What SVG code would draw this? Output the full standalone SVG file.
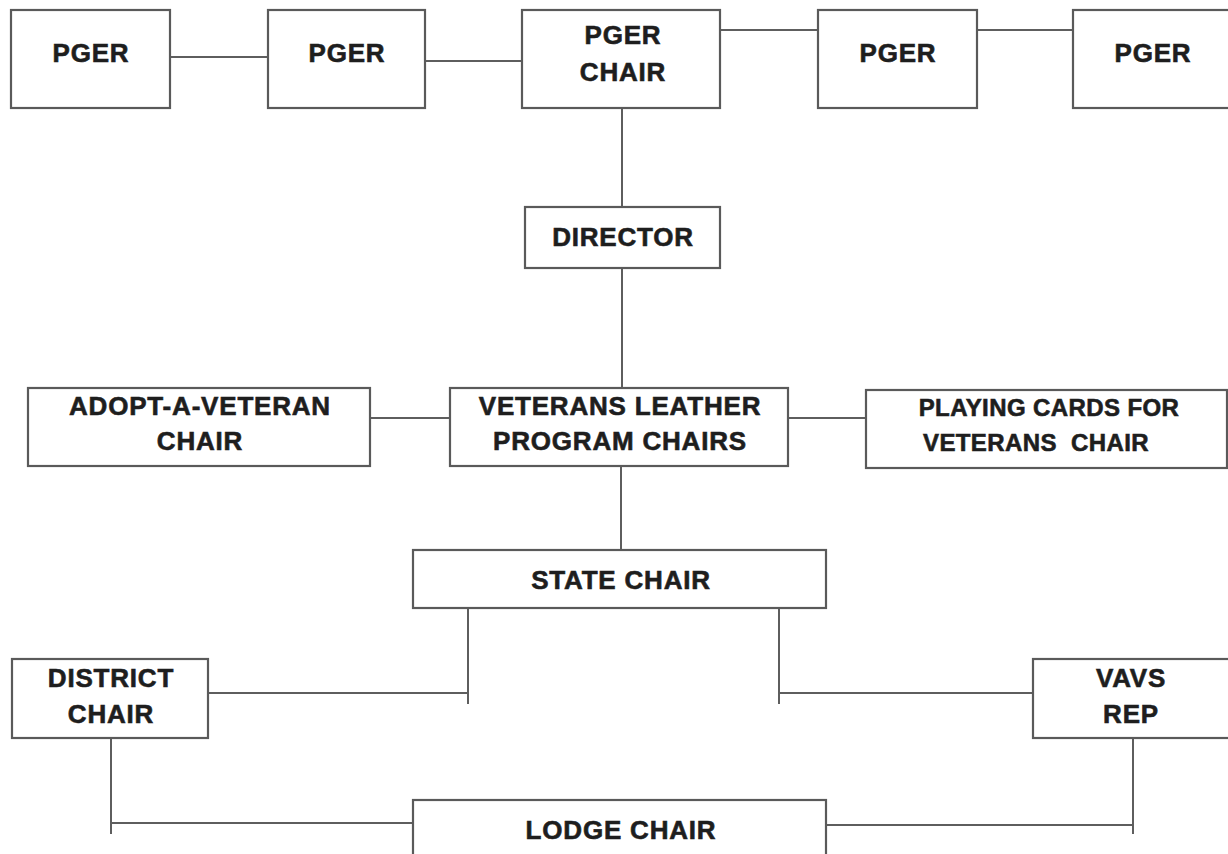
<svg xmlns="http://www.w3.org/2000/svg" width="1228" height="854" viewBox="0 0 1228 854">
<style>
.box{fill:#fff;stroke:#5a5a5a;stroke-width:2.2}
.lbl{font-family:"Liberation Sans",Arial,sans-serif;font-weight:bold;font-size:26px;letter-spacing:0.8px;fill:#1e1e1e;stroke:#1e1e1e;stroke-width:0.6;text-anchor:middle}
.sm{font-size:24px;letter-spacing:0.4px}
.con line{stroke:#5e5e5e;stroke-width:2}
</style>
<rect width="1228" height="854" fill="#fff"/>
<g class="con" id="connectors">
<line x1="170" y1="57" x2="268" y2="57"/>
<line x1="425" y1="61" x2="522" y2="61"/>
<line x1="720" y1="30" x2="818" y2="30"/>
<line x1="977" y1="30" x2="1073" y2="30"/>
<line x1="622" y1="108" x2="622" y2="207"/>
<line x1="622" y1="268" x2="622" y2="388"/>
<line x1="370" y1="418" x2="450" y2="418"/>
<line x1="788" y1="418" x2="866" y2="418"/>
<line x1="621" y1="466" x2="621" y2="550"/>
<line x1="468" y1="608" x2="468" y2="704"/>
<line x1="208" y1="693" x2="468" y2="693"/>
<line x1="779" y1="608" x2="779" y2="704"/>
<line x1="779" y1="693" x2="1033" y2="693"/>
<line x1="111" y1="738" x2="111" y2="834"/>
<line x1="111" y1="823" x2="413" y2="823"/>
<line x1="1133" y1="738" x2="1133" y2="834"/>
<line x1="826" y1="825" x2="1133" y2="825"/>
</g>
<g id="pger1"><rect class="box" x="11" y="10" width="159" height="98"/><text class="lbl" x="91" y="62">PGER</text></g>
<g id="pger2"><rect class="box" x="268" y="10" width="157" height="98"/><text class="lbl" x="347" y="62">PGER</text></g>
<g id="pger-chair"><rect class="box" x="522" y="10" width="198" height="98"/><text class="lbl" x="623" y="44">PGER</text><text class="lbl" x="623" y="81">CHAIR</text></g>
<g id="pger4"><rect class="box" x="818" y="10" width="159" height="98"/><text class="lbl" x="898" y="62">PGER</text></g>
<g id="pger5"><rect class="box" x="1073" y="10" width="160" height="98"/><text class="lbl" x="1153" y="62">PGER</text></g>
<g id="director"><rect class="box" x="525" y="207" width="195" height="61"/><text class="lbl" x="623" y="246">DIRECTOR</text></g>
<g id="adopt"><rect class="box" x="28" y="388" width="342" height="78"/><text class="lbl" x="200" y="415">ADOPT-A-VETERAN</text><text class="lbl" x="200" y="450">CHAIR</text></g>
<g id="vlp"><rect class="box" x="450" y="388" width="338" height="78"/><text class="lbl" x="620" y="415">VETERANS LEATHER</text><text class="lbl" x="620" y="450">PROGRAM CHAIRS</text></g>
<g id="playing"><rect class="box" x="866" y="390" width="361" height="78"/><text class="lbl sm" x="1049" y="416">PLAYING CARDS FOR</text><text class="lbl sm" x="1036" y="451" xml:space="preserve">VETERANS  CHAIR</text></g>
<g id="state"><rect class="box" x="413" y="550" width="413" height="58"/><text class="lbl" x="621" y="589">STATE CHAIR</text></g>
<g id="district"><rect class="box" x="12" y="659" width="196" height="79"/><text class="lbl" x="111" y="687">DISTRICT</text><text class="lbl" x="111" y="723">CHAIR</text></g>
<g id="vavs"><rect class="box" x="1033" y="659" width="200" height="79"/><text class="lbl" x="1131" y="687">VAVS</text><text class="lbl" x="1131" y="723">REP</text></g>
<g id="lodge"><rect class="box" x="413" y="800" width="413" height="60"/><text class="lbl" x="621" y="839">LODGE CHAIR</text></g>
</svg>
